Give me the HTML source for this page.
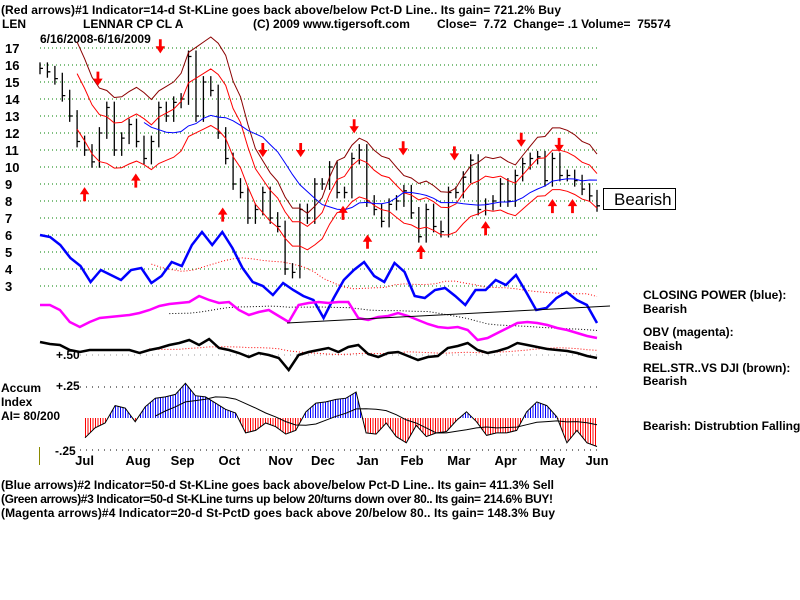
<!DOCTYPE html>
<html><head><meta charset="utf-8"><style>
html,body{margin:0;padding:0;background:#fff;}
svg{display:block;font-family:"Liberation Sans",Arial,sans-serif;font-weight:bold;}
</style></head><body>
<svg id="chart" width="800" height="600" viewBox="0 0 800 600" xmlns="http://www.w3.org/2000/svg">
<defs>
<pattern id="redStripe" width="2.5" height="10" patternUnits="userSpaceOnUse"><rect width="1" height="10" fill="#f00"/></pattern>
<pattern id="blueStripe" width="2.5" height="10" patternUnits="userSpaceOnUse"><rect width="1" height="10" fill="#00f"/></pattern>
<clipPath id="aboveZero"><rect x="0" y="0" width="800" height="418"/></clipPath>
<clipPath id="belowZero"><rect x="0" y="418" width="800" height="200"/></clipPath>
</defs>
<g font-size="12" fill="#000">
<text x="1" y="14" textLength="560">(Red arrows)#1 Indicator=14-d St-KLine goes back above/below Pct-D Line.. Its gain= 721.2% Buy</text>
<text x="2" y="28">LEN</text>
<text x="83" y="28">LENNAR CP CL A</text>
<text x="253" y="28">(C) 2009 www.tigersoft.com</text>
<text x="437" y="28" xml:space="preserve">Close=  7.72  Change= .1 Volume=  75574</text>
<text x="40" y="43">6/16/2008-6/16/2009</text>
</g>
<g id="grid"></g>
<g id="yaxis" font-size="13"></g>
<g id="xaxis" font-size="13"></g>
<g id="accum"></g>
<g id="lower"></g>
<g id="price"></g>
<g id="arrows"></g>
<g font-size="12">
<text x="56" y="359">+.50</text>
<text x="56" y="390">+.25</text>
<text x="55" y="455">-.25</text>
<text x="1" y="392">Accum</text>
<text x="1" y="406">Index</text>
<text x="1" y="420">AI= 80/200</text>
<line x1="39.5" y1="447" x2="39.5" y2="465" stroke="#8a8a00"/>
</g>
<g>
<rect x="603.5" y="188.5" width="72" height="21" fill="#fff" stroke="#000"/>
<text x="614" y="205" font-size="17" font-weight="normal">Bearish</text>
</g>
<g font-size="12">
<text x="643" y="299">CLOSING POWER (blue):</text>
<text x="643" y="313">Bearish</text>
<text x="643" y="336">OBV (magenta):</text>
<text x="643" y="350">Beaish</text>
<text x="643" y="372">REL.STR..VS DJI (brown):</text>
<text x="643" y="385">Bearish</text>
<text x="643" y="430">Bearish: Distrubtion Falling.</text>
</g>
<g font-size="12">
<text x="1" y="489" textLength="553">(Blue arrows)#2 Indicator=50-d St-KLine goes back above/below Pct-D Line.. Its gain= 411.3% Sell</text>
<text x="1" y="503" textLength="552">(Green arrows)#3 Indicator=50-d St-KLine turns up below 20/turns down over 80.. Its gain= 214.6% BUY!</text>
<text x="1" y="517" textLength="554">(Magenta arrows)#4 Indicator=20-d St-PctD goes back above 20/below 80.. Its gain= 148.3% Buy</text>
</g>
</svg>
<script>
const closes=[15.8,15.6,15.2,14.2,13,11.5,11,10.3,12,13.5,11,11.7,12.5,11.5,10.5,11.5,13.5,13,13.8,14,16.5,13,15,14.5,12,10.5,9,8.5,7,7.5,8.5,7,6.5,4,3.8,7.5,7,9,9,10,8.5,8.5,10.5,11,8,7.5,6.8,7.8,8,8.6,7.3,5.9,7.5,6.5,6.2,8.5,8.5,9.4,10.4,7.5,7.8,8,9,8,9.5,10.2,10.5,10.6,9.2,10.5,9.5,9.5,9.2,8.7,8.3,7.72];
const priceTicks=[17,16,15,14,13,12,11,10,9,8,7,6,5,4,3];
const months=["Jul","Aug","Sep","Oct","Nov","Dec","Jan","Feb","Mar","Apr","May","Jun"];
const monthDay=[20,44,64,85,108,127,147,167,188,209,230,250];
const closingPower=[235,237,245,258,266,282,270,275,280,270,268,283,276,262,266,245,232,245,232,248,268,282,286,295,283,290,296,300,318,298,280,270,262,276,282,263,272,296,298,290,288,296,305,290,290,280,285,275,292,310,308,298,292,300,305,323];
const obv=[305,305,310,322,327,322,318,317,316,315,313,310,306,304,303,302,296,300,303,302,310,315,312,310,316,322,305,303,302,303,302,302,318,320,317,316,313,316,320,324,327,328,327,330,340,338,333,328,323,322,323,325,328,330,333,336,338];
const relStr=[342,344,345,350,352,350,350,350,350,350,353,350,348,345,343,340,345,339,348,350,353,357,353,355,358,370,355,352,350,348,352,347,345,354,357,353,352,356,360,357,356,348,346,343,350,353,351,348,343,345,347,349,350,351,353,356,358];
const accumIdx=[-0.16,-0.08,-0.04,0.1,0.08,-0.03,0.09,0.16,0.17,0.19,0.28,0.18,0.17,0.12,0.07,0.04,-0.12,-0.1,-0.04,-0.07,-0.13,-0.1,0.05,0.12,0.13,0.15,0.16,0.21,-0.12,-0.13,-0.04,-0.15,-0.2,-0.06,-0.15,-0.12,-0.11,-0.02,0.05,-0.03,-0.14,-0.12,-0.12,-0.1,0.05,0.13,0.1,0.01,-0.2,-0.1,-0.2,-0.23];
const downArrowDays=[26,54,100,117,141,163,186,216,233];
const downArrowPrices=[15,16.9,10.8,10.8,12.2,10.9,10.6,11.4,11.1];
const upArrowDays=[20,43,82,136,147,171,200,230,239];
const upArrowPrices=[8.6,9.4,7.4,7.5,5.8,5.2,6.6,7.9,7.9];

const NS="http://www.w3.org/2000/svg";
const X0=40,X1=597,DAYS=250;
const xDay=d=>X0+d*(X1-X0)/DAYS;
const yP=v=>48+(17-v)*17;
const yA=v=>418-v*124;
function mk(tag,attrs,parent){const e=document.createElementNS(NS,tag);for(const k in attrs)e.setAttribute(k,attrs[k]);parent.appendChild(e);return e;}
function ma(arr,w){return arr.map((v,i)=>{if(i<w-1)return null;let s=0;for(let j=i-w+1;j<=i;j++)s+=arr[j];return s/w;});}
function pathOf(xs,ys){let d="";ys.forEach((y,i)=>{if(y==null)return;d+=(d?"L":"M")+xs[i].toFixed(1)+","+y.toFixed(1);});return d;}
const xIdx=(i,n)=>X0+i*(X1-X0)/(n-1);

const grid=document.getElementById('grid');
priceTicks.forEach(t=>{
 const l=mk('line',{x1:40,x2:600,y1:yP(t),y2:yP(t),stroke:'#008000','stroke-dasharray':'1,3'},grid);
 
 
});
[[355,'#999'],[387,'#000'],[450,'#000']].forEach(([y,c])=>{
 const l=mk('line',{x1:80,x2:600,y1:y,y2:y,stroke:c,'stroke-dasharray':'1,5'},grid);
 
 
});
const ya=document.getElementById('yaxis');
priceTicks.forEach(t=>{
 const e=mk('text',{x:5,y:yP(t)+5},ya);e.textContent=t;
 
 
});
const xa=document.getElementById('xaxis');
months.forEach((m,i)=>{
 const e=mk('text',{x:xDay(monthDay[i]),y:465,'text-anchor':'middle'},xa);e.textContent=m;
 
 
});

const pg=document.getElementById('price');
const n=closes.length;
const px=closes.map((c,i)=>xIdx(i,n));
closes.forEach((c,i)=>{
 const prev=i?closes[i-1]:c;
 const hi=Math.max(prev,c)+0.35, lo=Math.min(prev,c)-0.35;
 const b=mk('path',{d:`M${px[i].toFixed(1)},${yP(hi).toFixed(1)}V${yP(lo).toFixed(1)}M${px[i].toFixed(1)},${yP(c).toFixed(1)}h3`,stroke:'#000','stroke-width':1.3,fill:'none'},pg);
 
 
});
const m6=ma(closes,6), m15=ma(closes,15);
[[1.22,'#8b0000','upper-band-brown'],[1.09,'#f00','upper-band-red'],[0.86,'#f00','lower-band-red']].forEach(([f,c,name])=>{
 const p=mk('path',{d:pathOf(px,m6.map(v=>v==null?null:yP(v*f))),stroke:c,fill:'none','stroke-width':1},pg);
 
 
});
const bm=mk('path',{d:pathOf(px,m15.map(v=>v==null?null:yP(v))),stroke:'#00f',fill:'none','stroke-width':1},pg);



const lg=document.getElementById('lower');
function series(arr,color,w,name,maColor,maW){
 const xs=arr.map((v,i)=>xIdx(i,arr.length));
 if(maColor){const m=mk('path',{d:pathOf(xs,ma(arr,maW)),stroke:maColor,fill:'none','stroke-dasharray':'1,2'},lg);
  
  }
 const p=mk('path',{d:pathOf(xs,arr),stroke:color,fill:'none','stroke-width':w},lg);
 
 
}
series(closingPower,'#00f',2.5,'closing-power-line','#f00',12);
series(obv,'#f0f',2.5,'obv-line','#000',14);
series(relStr,'#000',2.5,'rel-strength-line','#f00',12);
const tl=mk('line',{x1:287,y1:323,x2:610,y2:306,stroke:'#000','stroke-width':1},lg);



const ag=document.getElementById('accum');
const ax=accumIdx.map((v,i)=>85+i*(597-85)/(accumIdx.length-1));
const area='M'+ax[0]+','+yA(0)+accumIdx.map((v,i)=>'L'+ax[i].toFixed(1)+','+yA(v).toFixed(1)).join('')+'L'+ax[ax.length-1]+','+yA(0)+'Z';
const pa=mk('path',{d:area,fill:'url(#blueStripe)','clip-path':'url(#aboveZero)'},ag);


const na=mk('path',{d:area,fill:'url(#redStripe)','clip-path':'url(#belowZero)'},ag);


const al=mk('path',{d:pathOf(ax,accumIdx.map(yA)),stroke:'#000',fill:'none','stroke-width':1},ag);


const am=mk('path',{d:pathOf(ax,ma(accumIdx,8).map(v=>v==null?null:yA(v))),stroke:'#000',fill:'none','stroke-width':1},ag);



const arg=document.getElementById('arrows');
function arrow(x,y,dir,name){
 const d=dir>0?`M${x-1},${y+10}V${y+3}H${x-4}L${x},${y-3}L${x+4},${y+3}H${x+1}V${y+10}Z`:`M${x-1},${y-10}V${y-3}H${x-4}L${x},${y+3}L${x+4},${y-3}H${x+1}V${y-10}Z`;
 const a=mk('path',{d:d,fill:'#f00',stroke:'#f00','stroke-width':0.8},arg);
 
 
}
downArrowDays.forEach((d,i)=>arrow(xDay(d),yP(downArrowPrices[i]),-1,'sell-arrow'));
upArrowDays.forEach((d,i)=>arrow(xDay(d),yP(upArrowPrices[i]),1,'buy-arrow'));
</script>
</body></html>
